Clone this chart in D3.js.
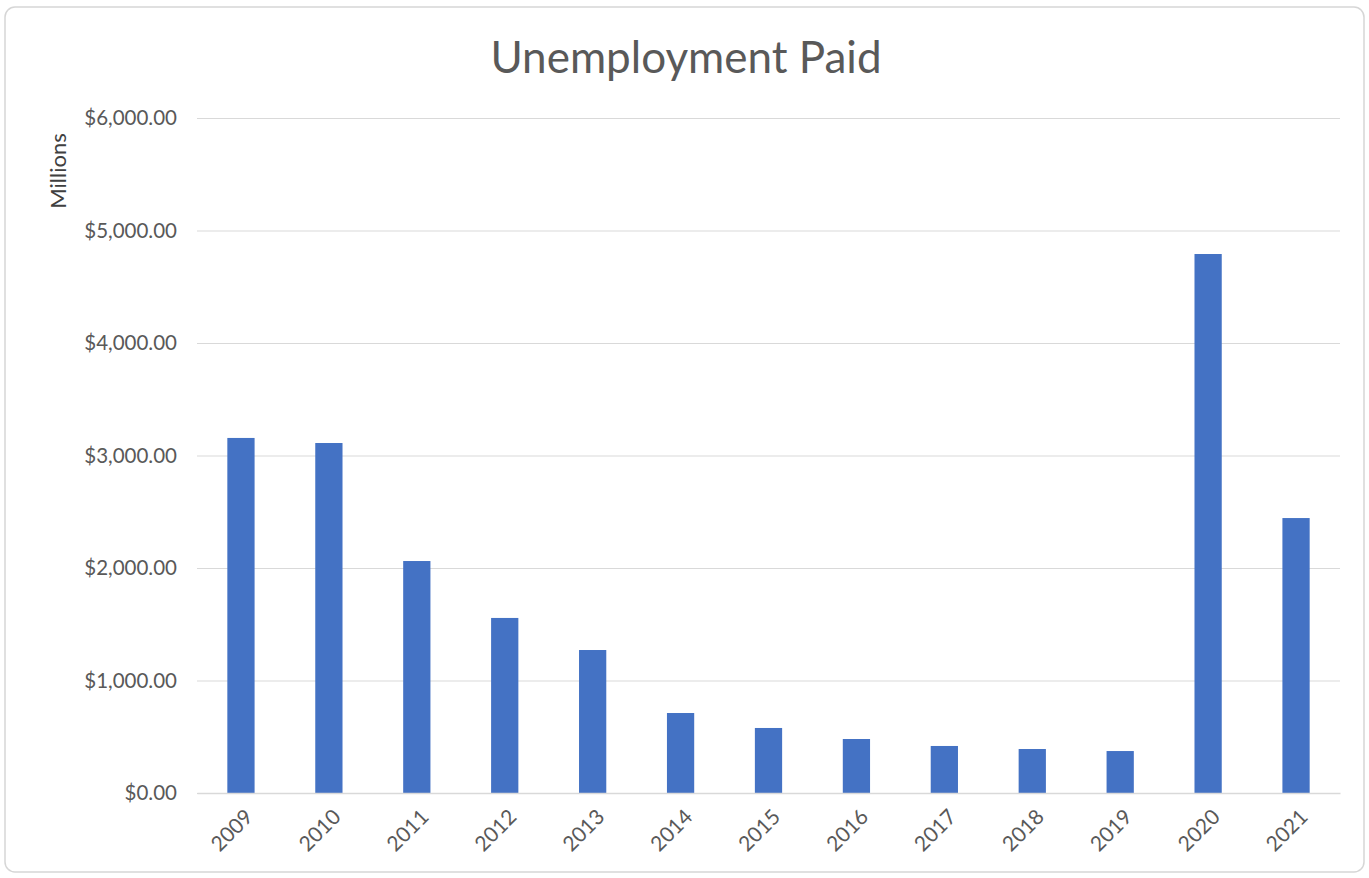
<!DOCTYPE html>
<html>
<head>
<meta charset="utf-8">
<script src="https://cdn.jsdelivr.net/npm/d3@7"></script>
<style>
  html, body { margin: 0; padding: 0; background: #ffffff; }
  svg { display: block; }
  text { font-family: Lato, "Open Sans", sans-serif; }
</style>
</head>
<body>
<svg id="chart" width="1369" height="878"></svg>
<script>
// Unemployment benefits paid per year, in millions of dollars
const years = ["2009", "2010", "2011", "2012", "2013", "2014", "2015",
               "2016", "2017", "2018", "2019", "2020", "2021"];
const paidMillions = [3156, 3111, 2062, 1556, 1271, 711, 578,
                      480, 418, 391, 373, 4791, 2444];
const yTicks = [0, 1000, 2000, 3000, 4000, 5000, 6000];

const svg = d3.select("#chart");
const W = 1369, H = 878;
const plot = { left: 197, right: 1340, top: 118, bottom: 793 };

// Card background with a soft rounded border
svg.append("rect")
  .attr("x", 5).attr("y", 7)
  .attr("width", W - 10).attr("height", H - 13)
  .attr("rx", 10)
  .attr("fill", "#ffffff")
  .attr("stroke", "#d6d6d6")
  .attr("stroke-width", 1.5);

const x = d3.scaleBand()
  .domain(years)
  .range([plot.left, plot.right])
  .paddingInner(0.69)
  .paddingOuter(0.345);

const y = d3.scaleLinear()
  .domain([0, 6000])
  .range([plot.bottom, plot.top]);

const money = d3.format("$,.2f");

// Horizontal gridlines and value labels
const yAxis = d3.axisLeft(y)
  .tickValues(yTicks)
  .tickSize(-(plot.right - plot.left))
  .tickPadding(20)
  .tickFormat(money);

const gy = svg.append("g")
  .attr("transform", `translate(${plot.left},0)`)
  .call(yAxis);
gy.select(".domain").remove();
gy.selectAll(".tick line")
  .attr("stroke", "#d9d9d9")
  .attr("stroke-width", 1.2);
gy.selectAll(".tick text")
  .attr("fill", "#595959")
  .style("font-size", "20.5px");

// Bars
svg.append("g")
  .selectAll("rect")
  .data(years.map((yr, i) => ({ yr, v: paidMillions[i] })))
  .join("rect")
  .attr("x", d => x(d.yr))
  .attr("width", x.bandwidth())
  .attr("y", d => y(d.v))
  .attr("height", d => y(0) - y(d.v))
  .attr("fill", "#4472c4");

// Category axis with slanted year labels
const xAxis = d3.axisBottom(x).tickSize(0).tickPadding(0);
const gx = svg.append("g")
  .attr("transform", `translate(0,${plot.bottom})`)
  .call(xAxis);
gx.select(".domain")
  .attr("stroke", "#d9d9d9")
  .attr("stroke-width", 1.5);
gx.selectAll(".tick text")
  .attr("fill", "#595959")
  .style("font-size", "21px")
  .attr("text-anchor", "end")
  .attr("dy", "0.35em")
  .attr("transform", "translate(8,20) rotate(-45)");

// Vertical axis title
svg.append("text")
  .attr("transform", `translate(66,171) rotate(-90)`)
  .attr("text-anchor", "middle")
  .attr("fill", "#404040")
  .style("font-size", "22px")
  .text("Millions");

// Chart title
svg.append("text")
  .attr("x", 686).attr("y", 73)
  .attr("text-anchor", "middle")
  .attr("fill", "#595959")
  .style("font-size", "44px")
  .text("Unemployment Paid");
</script>
</body>
</html>
